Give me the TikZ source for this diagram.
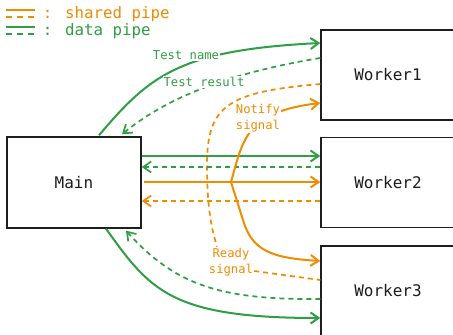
\documentclass[tikz,border=0pt]{standalone}
\usepackage{fontspec}
\newfontfamily\monof{DejaVu Sans Mono}
\usetikzlibrary{arrows.meta,calc}
\definecolor{orng}{HTML}{F08C00}
\definecolor{grn}{HTML}{2F9E44}
\definecolor{ink}{HTML}{1E1E1E}
\begin{document}
\begin{tikzpicture}[x=1pt,y=-1pt,
  box/.style={draw=ink,line width=1.4pt,minimum width=134pt,minimum height=90pt,inner sep=0pt,font=\monof\fontsize{16}{19}\selectfont,text=ink},
  lbl/.style={font=\monof\fontsize{12.2}{16.5}\selectfont,fill=white,inner sep=1pt,align=center},
  legtext/.style={font=\monof\fontsize{15.8}{19}\selectfont,inner sep=0pt,anchor=base west},
  solidpipe/.style={line width=2pt},
  dashpipe/.style={line width=1.7pt,dash pattern=on 5pt off 4pt},
  arrowend/.style={-{Straight Barb[length=8pt,width=11pt]}},
]
\fill[white] (0,0) rectangle (453,335);
\useasboundingbox (0,0) rectangle (453,335);

% legend
\draw[orng,solidpipe] (6,10) -- (35,10);
\draw[orng,line width=1.7pt,dash pattern=on 6pt off 5pt] (6,17) -- (35,17);
\draw[grn,solidpipe] (6,27) -- (35,27);
\draw[grn,line width=1.7pt,dash pattern=on 6pt off 5pt] (6,34) -- (35,34);
\node[legtext,text=orng] (legshared) at (42.7,18) {: shared pipe};
\node[legtext,text=grn] (legdata) at (42.7,35) {: data pipe};

% boxes
\node[box,minimum height=91pt] (M) at (74,182.5) {Main};
\node[box] (W1) at (388,75) {Worker1};
\node[box] (W2) at (388,182.5) {Worker2};
\node[box] (W3) at (388,291) {Worker3};

\node[lbl,text=orng] (ready) at (231,262) {Ready\\signal};

% worker1
\draw[grn,solidpipe,arrowend] ($(M.north)+(25,-1)$) .. controls (150,75) and (180,50) .. ($(W1.west)+(0,-32)$);
\draw[grn,dashpipe,arrowend] ($(W1.west)+(0,-17)$) .. controls (235,72) and (170,95) .. ($(M.north)+(48,-2)$);

% ready signal
\draw[orng,dashpipe] ($(W1.west)+(0,9)$) .. controls (228,92) and (207,105) .. (207,165) .. controls (207,210) and (212,230) .. ($(ready.north)+(-14,0)$);
\draw[orng,dashpipe] ($(ready.east)+(0,9)$) -- ($(W3.west)+(0,-11)$);

% worker2
\draw[grn,solidpipe,arrowend] ($(M.east)+(0,-26.5)$) -- ($(W2.west)+(0,-26.5)$);
\draw[grn,dashpipe,arrowend] ($(W2.west)+(0,-15.5)$) -- ($(M.east)+(0,-15.5)$);
\draw[orng,solidpipe,arrowend] ($(M.east)+(2,-0.5)$) -- ($(W2.west)+(0,-0.5)$);
\draw[orng,dashpipe,arrowend] ($(W2.west)+(0,18.5)$) -- ($(M.east)+(0,18.5)$);

% notify
\coordinate (J) at (231,182);
\draw[orng,solidpipe,arrowend] (J) .. controls (243,140) and (245,112) .. ($(W1.west)+(0,28)$);
\draw[orng,solidpipe,arrowend] (J) -- (243,220) .. controls (252,250) and (270,258) .. ($(W3.west)+(0,-30)$);

% worker3
\draw[grn,dashpipe,arrowend] ($(W3.west)+(0,8)$) .. controls (220,300) and (175,285) .. ($(M.south)+(52,2)$);
\draw[grn,solidpipe,arrowend] ($(M.south)+(32,0)$) .. controls (150,290) and (170,318) .. ($(W3.west)+(0,27)$);

% labels
\node[lbl,text=grn] (tname) at (186,55) {Test name};
\node[lbl,text=grn] (tres) at (204,82) {Test result};
\node[lbl,text=orng] (notify) at (258,118) {Notify\\signal};
\end{tikzpicture}
\end{document}
